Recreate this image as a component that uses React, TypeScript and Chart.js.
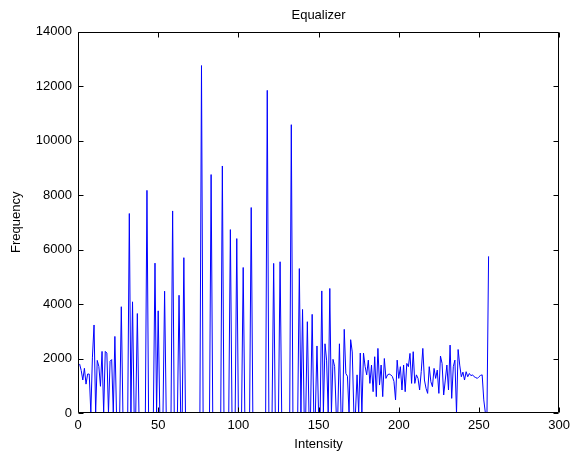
import React, { useEffect, useRef } from 'react';
import { Chart, registerables } from 'chart.js';

Chart.register(...registerables);

// Histogram counts for intensity bins 1..256
const freq1 = [
  1800, 1560, 1210, 1640, 1060, 1430, 1430, 0, 2050, 3230,
  0, 1930, 1710, 980, 2260, 0, 2260, 2200, 0, 1900,
  1960, 0, 2810, 0, 0, 0, 3900, 0, 0, 0,
  0, 7320, 0, 4080, 0, 0, 3650, 0, 0, 0,
  0, 0, 8170, 0, 0, 0, 0, 5500, 0, 3750,
  0, 0, 0, 4470, 0, 0, 0, 0, 7415, 0,
  0, 0, 4320, 0,
];
const freq2 = [
  0, 5700, 0, 0, 0, 0, 0, 0, 0, 0,
  0, 0, 12750, 0, 0, 0, 0, 0, 8750, 0,
  0, 0, 0, 0, 0, 9065, 0, 0, 0, 0,
  6730, 0, 0, 0, 6400, 0, 0, 0, 5340, 0,
  0, 0, 0, 7540, 0, 0, 0, 0, 0, 0,
  0, 0, 0, 11840, 0, 0, 0, 5490, 0, 0,
  0, 5550, 0, 0,
];
const freq3 = [
  0, 0, 0, 0, 10580, 0, 0, 0, 0, 5300,
  0, 3800, 0, 0, 3350, 0, 0, 3620, 0, 0,
  2460, 0, 0, 4480, 0, 2540, 1940, 0, 4570, 0,
  1970, 1710, 0, 0, 2540, 0, 0, 3070, 1450, 1350,
  0, 2690, 2240, 0, 0, 1400, 0, 2200, 0, 2200,
  1710, 1400, 1940, 1087, 1760, 782, 2065, 600, 2370, 1026,
  1760, 600, 2000, 1270,
];
const freq4 = [
  1400, 1430, 1400, 1340, 1160, 480, 1940, 1270, 1700, 844,
  1760, 782, 1820, 1700, 2187, 1087, 2250, 1087, 1400, 1270,
  844, 1515, 2370, 1210, 904, 720, 1700, 1150, 965, 1637,
  1270, 1575, 720, 2090, 1820, 660, 1210, 1760, 844, 2492,
  537, 1700, 1940, 0, 2330, 1760, 1330, 1500, 1210, 1515,
  1330, 1450, 1370, 1400, 1330, 1300, 1270, 1330, 1380, 1400,
  480, 0, 0, 5750,
];

const frequency = [...freq1, ...freq2, ...freq3, ...freq4];
const intensity = frequency.map((_, i) => i + 1);

const xTicks = [0, 50, 100, 150, 200, 250, 300];
const yTicks = [0, 2000, 4000, 6000, 8000, 10000, 12000, 14000];

const titleText = 'Equalizer';
const xLabel = 'Intensity';
const yLabel = 'Frequency';

const FONT = '"Liberation Sans", Arial, Helvetica, sans-serif';

export default function App() {
  const ref = useRef<HTMLCanvasElement | null>(null);

  useEffect(() => {
    document.body.style.margin = '0';
    const canvas = ref.current;
    if (!canvas) return;

    const boxPlugin = {
      id: 'matlabBox',
      afterDraw(chart: any) {
        const { ctx, chartArea: a, scales } = chart;
        const L = Math.round(a.left) + 0.5;
        const R = Math.round(a.right) - 0.5;
        const T = Math.round(a.top) + 0.5;
        const B = Math.round(a.bottom) - 0.5;
        const tl = 5;
        ctx.save();
        ctx.strokeStyle = '#000';
        ctx.lineWidth = 1;
        ctx.beginPath();
        ctx.rect(L, T, R - L, B - T);
        for (const v of xTicks) {
          const px = Math.round(scales.x.getPixelForValue(v)) + 0.5;
          ctx.moveTo(px, B);
          ctx.lineTo(px, B - tl);
          ctx.moveTo(px, T);
          ctx.lineTo(px, T + tl);
        }
        for (const v of yTicks) {
          const py = Math.round(scales.y.getPixelForValue(v)) + 0.5;
          ctx.moveTo(L, py);
          ctx.lineTo(L + tl, py);
          ctx.moveTo(R, py);
          ctx.lineTo(R - tl, py);
        }
        ctx.stroke();
        ctx.fillStyle = '#000';
        ctx.font = `13px ${FONT}`;
        ctx.textAlign = 'center';
        ctx.textBaseline = 'middle';
        ctx.fillText(titleText, (a.left + a.right) / 2, 15);
        ctx.restore();
      },
    };

    const chart = new Chart(canvas, {
      type: 'line',
      data: {
        datasets: [
          {
            data: intensity.map((x, i) => ({ x, y: frequency[i] })),
            borderColor: '#0000ff',
            borderWidth: 1,
            pointRadius: 0,
            tension: 0,
            fill: false,
          },
        ],
      },
      options: {
        animation: false,
        responsive: false,
        maintainAspectRatio: false,
        layout: { padding: { left: 0, right: 12, top: 31.5, bottom: 0 } },
        plugins: {
          legend: { display: false },
          tooltip: { enabled: false },
          title: { display: false },
        },
        scales: {
          x: {
            type: 'linear',
            min: 0,
            max: 300,
            afterBuildTicks: (s: any) => {
              s.ticks = xTicks.map((value) => ({ value }));
            },
            afterFit: (s: any) => {
              s.height = 44;
            },
            grid: { display: false, drawTicks: false },
            border: { display: false },
            ticks: {
              padding: 5,
              color: '#000',
              font: { family: FONT, size: 13 },
              maxRotation: 0,
              autoSkip: false,
              callback: (v: any) => String(v),
            },
            title: {
              display: true,
              text: xLabel,
              color: '#000',
              font: { family: FONT, size: 13 },
              padding: { top: 0, bottom: 5 },
            },
          },
          y: {
            type: 'linear',
            min: 0,
            max: 14000,
            afterBuildTicks: (s: any) => {
              s.ticks = yTicks.map((value) => ({ value }));
            },
            afterFit: (s: any) => {
              s.width = 78;
            },
            grid: { display: false, drawTicks: false },
            border: { display: false },
            ticks: {
              padding: 6,
              color: '#000',
              font: { family: FONT, size: 13 },
              autoSkip: false,
              callback: (v: any) => String(v),
            },
            title: {
              display: true,
              text: yLabel,
              color: '#000',
              font: { family: FONT, size: 13 },
              padding: { top: 9, bottom: 0 },
            },
          },
        },
      },
      plugins: [boxPlugin],
    });

    return () => chart.destroy();
  }, []);

  return (
    <div style={{ width: 575, height: 457, background: '#fff' }}>
      <canvas ref={ref} width={575} height={457} style={{ display: 'block', width: 575, height: 457 }} />
    </div>
  );
}
